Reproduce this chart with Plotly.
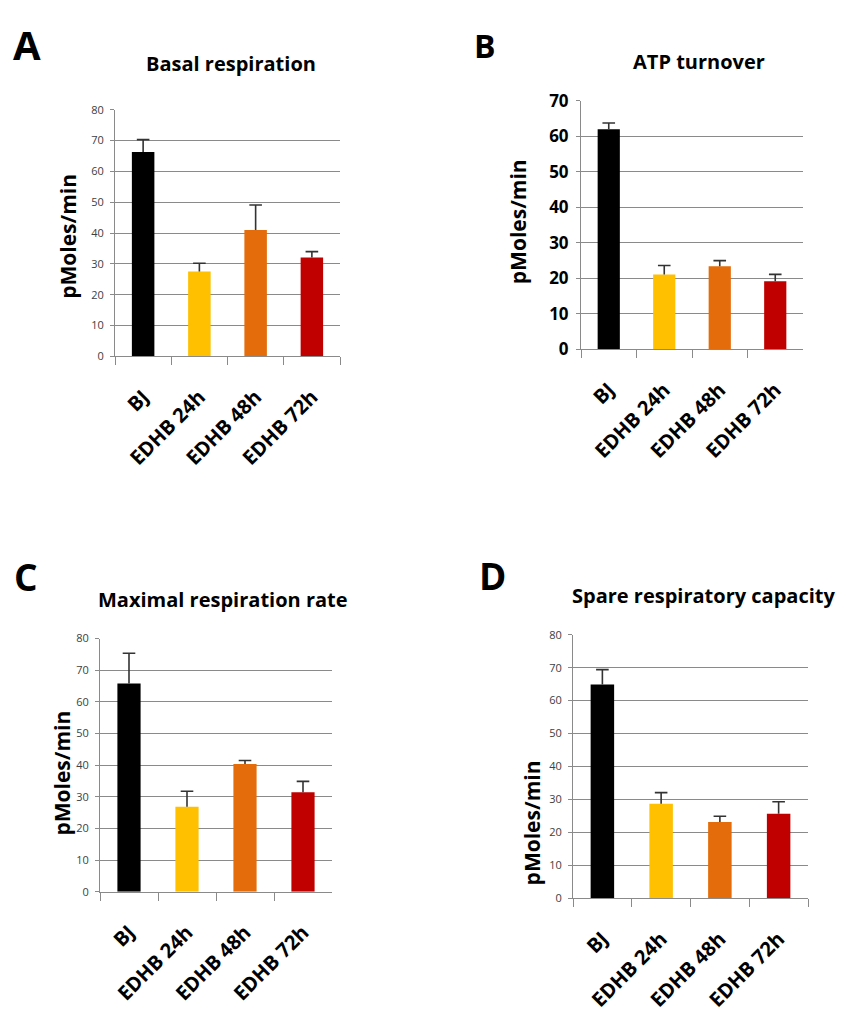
import plotly.graph_objects as go

W, H = 847, 1026

categories = ["BJ", "EDHB 24h", "EDHB 48h", "EDHB 72h"]
colors = ["#000000", "#FFC000", "#E46C0A", "#C00000"]

basal_vals = [66.3, 27.5, 41.0, 32.1]
basal_err = [4.0, 2.7, 8.1, 1.9]

atp_vals = [62.0, 21.1, 23.4, 19.2]
atp_err = [1.8, 2.5, 1.6, 1.9]

maximal_vals = [65.8, 26.9, 40.4, 31.5]
maximal_err = [9.6, 4.9, 1.1, 3.4]

spare_vals = [64.9, 28.7, 23.2, 25.7]
spare_err = [4.5, 3.4, 1.7, 3.6]

panels = [
    dict(letter="A", title="Basal respiration", vals=basal_vals, err=basal_err, ymax=80,
         box=(115, 340, 100, 352.3), bold_ticks=False,
         ylab=(68, 230), title_xy=(231, 53), letter_xy=(27, 33), letter_size=40),
    dict(letter="B", title="ATP turnover", vals=atp_vals, err=atp_err, ymax=70,
         box=(581, 803, 91, 345), bold_ticks=True,
         ylab=(518, 215), title_xy=(699, 51), letter_xy=(485, 34), letter_size=32),
    dict(letter="C", title="Maximal respiration rate", vals=maximal_vals, err=maximal_err, ymax=80,
         box=(100, 332, 641, 900), bold_ticks=False,
         ylab=(62, 778), title_xy=(223, 601), letter_xy=(26, 577), letter_size=37),
    dict(letter="D", title="Spare respiratory capacity", vals=spare_vals, err=spare_err, ymax=80,
         box=(573, 808, 637, 906.7), bold_ticks=False,
         ylab=(532, 830), title_xy=(703, 597), letter_xy=(492, 576), letter_size=37),
]

FONT = "Open Sans"
GRID = "#8a8a8a"

def px(x):
    return x / W

def py(y):
    return 1 - y / H

fig = go.Figure()
layout = dict(
    width=W, height=H, margin=dict(l=0, r=0, t=0, b=0),
    paper_bgcolor="white", plot_bgcolor="white", showlegend=False,
    font=dict(family=FONT), bargap=0.6,
)
annotations = []

for i, p in enumerate(panels):
    n = "" if i == 0 else str(i + 1)
    xa, ya = "x" + n, "y" + n
    x0, x1, y0, y1 = p["box"]
    fig.add_trace(go.Bar(
        x=categories, y=p["vals"], marker=dict(color=colors, line=dict(width=0)),
        xaxis=xa, yaxis=ya,
        error_y=dict(type="data", symmetric=False, array=p["err"], arrayminus=[0] * 4,
                     color="#333333", thickness=1.6, width=0),
    ))
    fig.add_trace(go.Scatter(
        x=categories, y=[v + e for v, e in zip(p["vals"], p["err"])], mode="markers",
        marker=dict(symbol="line-ew", size=9, line=dict(color="#333333", width=1.6)),
        xaxis=xa, yaxis=ya, hoverinfo="skip",
    ))
    layout["xaxis" + n] = dict(
        domain=[px(x0), px(x1)], anchor=ya, type="category", range=[-0.5, 3.5],
        showline=True, linecolor=GRID, linewidth=1, ticks="outside", tickson="boundaries",
        ticklen=8, tickcolor=GRID, tickangle=-45, ticklabelstandoff=20,
        tickfont=dict(family=FONT, size=20, color="black", weight=700),
        showgrid=False, zeroline=False,
    )
    if p["bold_ticks"]:
        tf = dict(family=FONT, size=17, color="black", weight=700)
    else:
        tf = dict(family=FONT, size=11, color="#404040")
    layout["yaxis" + n] = dict(
        domain=[py(y1), py(y0)], anchor=xa, range=[0, p["ymax"]], dtick=10,
        showline=True, linecolor=GRID, linewidth=1, ticks="outside", ticklen=4,
        tickcolor=GRID, showgrid=True, gridcolor=GRID, gridwidth=1, zeroline=False,
        tickfont=tf, ticklabelstandoff=4,
    )
    annotations.append(dict(
        text="<b>pMoles/min</b>", x=px(p["ylab"][0]), y=py(p["ylab"][1]), xref="paper", yref="paper",
        textangle=-90, showarrow=False, xanchor="center", yanchor="middle",
        font=dict(family=FONT, size=21, color="black"),
    ))
    annotations.append(dict(
        text="<b>" + p["title"] + "</b>", x=px(p["title_xy"][0]), y=py(p["title_xy"][1]),
        xref="paper", yref="paper", showarrow=False, xanchor="center", yanchor="middle",
        font=dict(family=FONT, size=20, color="black"),
    ))
    annotations.append(dict(
        text="<b>" + p["letter"] + "</b>", x=px(p["letter_xy"][0]), y=py(p["letter_xy"][1]),
        xref="paper", yref="paper", showarrow=False, xanchor="center", yanchor="middle",
        font=dict(family=FONT, size=p["letter_size"], color="black"),
    ))

layout["annotations"] = annotations
fig.update_layout(**layout)
fig.write_html("out.html")
